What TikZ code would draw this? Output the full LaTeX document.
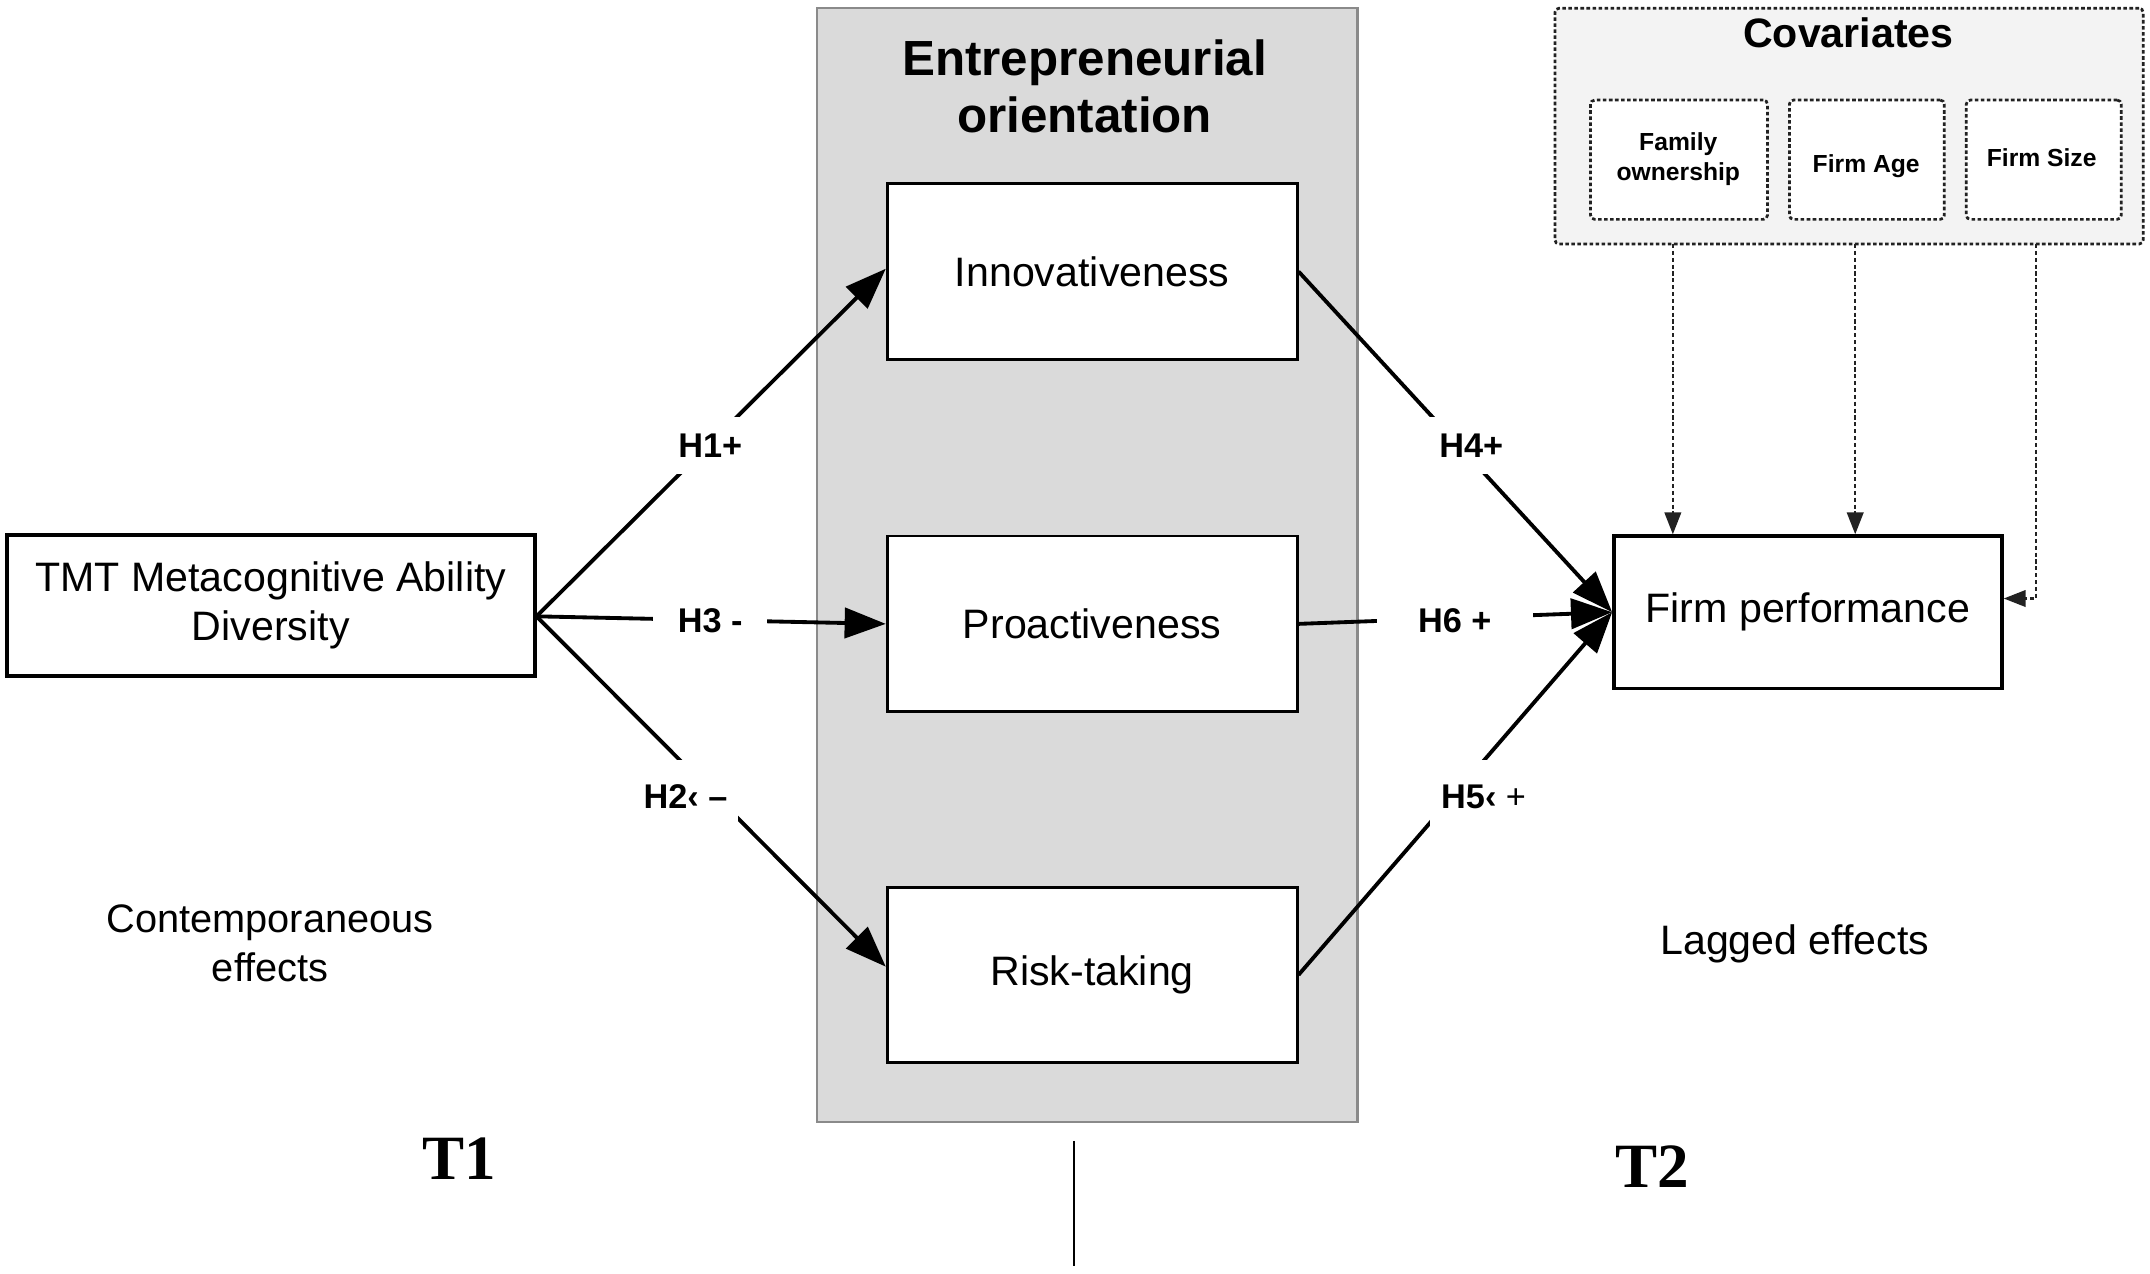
\documentclass[tikz,border=0pt]{standalone}
\usepackage{fontspec}
\setmainfont{Liberation Sans}
\newfontfamily\tfont{Liberation Serif}
\usetikzlibrary{arrows.meta,calc}
\definecolor{eogray}{HTML}{DADADA}
\definecolor{eoborder}{HTML}{8A8A8A}
\definecolor{covfill}{HTML}{F3F3F3}
\definecolor{dotc}{HTML}{222222}
\begin{document}
\begin{tikzpicture}[x=0.5pt,y=-0.5pt,
  box/.style={draw, line width=1pt, fill=white, minimum width=149.5pt, minimum height=64pt,
    font=\fontsize{15}{18}\selectfont, align=center, inner sep=0pt},
  bigbox/.style={draw, line width=1.3pt, fill=white, font=\fontsize{15}{18}\selectfont, align=center, inner sep=0pt},
  eobox/.style={draw=eoborder, line width=0.8pt, fill=eogray, minimum width=197pt, minimum height=406pt, inner sep=0pt},
  covbox/.style={draw=dotc, line width=1pt, dash pattern=on 1.3pt off 0.9pt, fill=covfill,
    minimum width=214.5pt, minimum height=86pt, inner sep=0pt, rounded corners=1.5pt},
  subbox/.style={draw=dotc, line width=1pt, dash pattern=on 1.3pt off 0.9pt, fill=white,
    minimum height=43.5pt, inner sep=0pt, rounded corners=1.5pt, align=center},
  subtext/.style={font=\bfseries\fontsize{9}{11}\selectfont, align=center},
  hlab/.style={fill=white, font=\bfseries\fontsize{12.5}{14}\selectfont, inner xsep=4pt, inner ysep=6pt},
  mainarrow/.style={line width=1.4pt, -{Triangle[length=15pt,width=11pt]}},
  dotarrow/.style={draw=dotc, line width=0.9pt, dash pattern=on 1.5pt off 1pt, -{Triangle[length=8pt,width=6pt]}},
  plain/.style={font=\fontsize{14.5}{18}\selectfont, align=center},
  tlab/.style={font=\tfont\bfseries\fontsize{23}{26}\selectfont}
]
\useasboundingbox (0,0) rectangle (1568,929);

% Entrepreneurial orientation panel
\node[eobox] (eo) at (793,412) {};
\node[font=\bfseries\fontsize{18}{21}\selectfont, align=center] (eotitle) at (791,63) {Entrepreneurial\\orientation};

\node[box] (inn) at (796.5,198) {Innovativeness};
\node[box] (pro) at (796.5,455) {Proactiveness};
\node[box] (risk) at (796.5,711) {Risk-taking};

\node[bigbox, minimum width=192.5pt, minimum height=51.5pt] (tmt) at (197.5,441.5) {TMT Metacognitive Ability\\Diversity};
\node[bigbox, minimum width=141.5pt, minimum height=55.5pt] (fp) at (1318.5,446.5) {Firm performance};

% Covariates
\node[covbox] (cov) at (1348.5,92) {};
\node[font=\bfseries\fontsize{15}{18}\selectfont] (covtitle) at (1348,24) {Covariates};
\node[subbox, minimum width=64.5pt] (fam) at (1224.5,116.5) {};
\node[subbox, minimum width=56.5pt] (age) at (1361.5,116.5) {};
\node[subbox, minimum width=56.5pt] (size) at (1490.5,116.5) {};
\node[subtext] (famt) at (1224,116) {Family\\ownership};
\node[subtext] (aget) at (1361,121) {Firm Age};
\node[subtext] (sizet) at (1489,115) {Firm Size};

% dotted covariate arrows
\coordinate (c1) at (1220,178);
\coordinate (c2) at (1353,178);
\coordinate (c3) at (1485,178);
\draw[dotarrow] (c1) -- (c1 |- fp.north);
\draw[dotarrow] (c2) -- (c2 |- fp.north);
\draw[dotarrow] (c3) |- ([yshift=5pt]fp.east);

% main arrows
\coordinate (src) at ([yshift=-4pt]tmt.east);
\draw[mainarrow] (src) -- ([yshift=1pt]inn.west);
\draw[mainarrow] (src) -- (pro.west);
\draw[mainarrow] (src) -- ([yshift=3pt]risk.west);
\draw[mainarrow] (inn.east) -- (fp.west);
\draw[mainarrow] (pro.east) -- (fp.west);
\draw[mainarrow] (risk.east) -- (fp.west);

% hypothesis labels
\node[hlab] (h1) at (518,325) {H1+};
\node[hlab, inner xsep=9pt] (h3) at (518,453) {H3 -};
\node[hlab, inner ysep=9pt] (h2) at (500,581) {H2‹ –};
\node[hlab] (h4) at (1073,325) {H4+};
\node[hlab, inner xsep=15pt] (h6) at (1061,453) {H6 +};
\node[hlab, inner ysep=9pt] (h5) at (1082,581) {H5‹ {\mdseries+}};

% side texts
\node[plain] (cont) at (197,688) {Contemporaneous\\effects};
\node[plain, font=\fontsize{15}{18}\selectfont] (lag) at (1309,688) {Lagged effects};
\node[tlab] (t1) at (335,845) {T1};
\node[tlab] (t2) at (1205,851) {T2};

% vertical line
\coordinate (v1) at (783,832);
\coordinate (v2) at (783,923);
\draw[line width=0.75pt] (v1) -- (v2);
\end{tikzpicture}
\end{document}
